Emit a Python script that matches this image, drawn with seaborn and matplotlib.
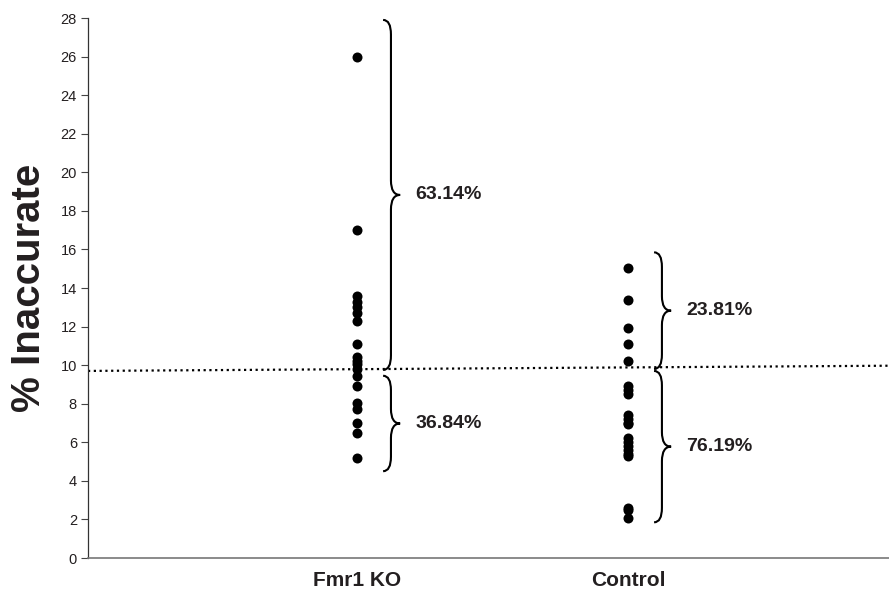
import numpy as np
import pandas as pd
import matplotlib
matplotlib.use("Agg")
import matplotlib.pyplot as plt
from matplotlib.path import Path
from matplotlib.patches import PathPatch
import seaborn as sns

# ---- data ----
groups = ["Fmr1 KO", "Control"]
fmr1_values = [26.0, 17.0, 13.6, 13.3, 13.0, 12.7, 12.3, 11.1, 10.4, 10.2, 10.05, 9.8,
               9.45, 8.9, 8.05, 7.75, 7.0, 6.5, 5.2]
control_values = [15.05, 13.4, 11.95, 11.1, 10.2,
                  8.9, 8.7, 8.5, 7.4, 7.2, 7.0, 6.95, 6.2, 6.0, 5.8, 5.6, 5.4, 5.3,
                  2.6, 2.5, 2.05]
cutoff_start = 9.7
cutoff_end = 9.97
brace_groups = ["Fmr1 KO", "Fmr1 KO", "Control", "Control"]
brace_low = [9.75, 4.5, 9.8, 1.85]
brace_high = [27.9, 9.45, 15.85, 9.7]
brace_labels = ["63.14%", "36.84%", "23.81%", "76.19%"]
yticks = list(range(0, 29, 2))

df = pd.DataFrame({
    "group": ["Fmr1 KO"] * len(fmr1_values) + ["Control"] * len(control_values),
    "value": fmr1_values + control_values,
})

sns.set_style("white")
plt.rcParams["font.family"] = ["Liberation Sans", "DejaVu Sans"]
txt = "#231f20"

fig = plt.figure(figsize=(8.89, 5.94), dpi=100)
ax = fig.add_axes([88 / 889, 36 / 594, 801 / 889, 540 / 594])

sns.stripplot(data=df, x="group", y="value", order=groups, jitter=False,
              color="black", size=7.2, linewidth=0, ax=ax, zorder=3)

ax.set_xlim(-0.993, 1.963)
ax.set_ylim(0, 28)
ax.set_yticks(yticks)
ax.set_yticklabels([str(t) for t in yticks], fontsize=10.5, color=txt)
ax.set_xticks([0, 1])
ax.set_xticklabels(groups, fontsize=15, fontweight="bold", color=txt)
ax.tick_params(axis="y", direction="out", length=5, width=0.8, color="#444444", pad=3, left=True)
ax.tick_params(axis="x", length=0, pad=9)
ax.set_xlabel("")
ax.set_ylabel("% Inaccurate", fontsize=29, fontweight="bold", color=txt, labelpad=9)

for s in ["top", "right"]:
    ax.spines[s].set_visible(False)
ax.spines["left"].set_color("#333333")
ax.spines["left"].set_linewidth(0.9)
ax.spines["bottom"].set_color("#777777")
ax.spines["bottom"].set_linewidth(1.2)

# cutoff dotted line
xl = ax.get_xlim()
ax.plot([xl[0], xl[1]], [cutoff_start, cutoff_end], color="black",
        linestyle=(0, (1, 1.6)), linewidth=1.6, zorder=2)

# braces
def draw_brace(ax, xc, lo, hi, label):
    x0 = xc + 0.096
    xm = xc + 0.125
    x1 = xc + 0.159
    mid = (lo + hi) / 2
    r = 0.75
    verts = [(x0, hi), (xm, hi), (xm, hi - r),
             (xm, mid + r),
             (xm, mid), (x1, mid),
             (xm, mid), (xm, mid - r),
             (xm, lo + r),
             (xm, lo), (x0, lo)]
    codes = [Path.MOVETO, Path.CURVE3, Path.CURVE3,
             Path.LINETO,
             Path.CURVE3, Path.CURVE3,
             Path.CURVE3, Path.CURVE3,
             Path.LINETO,
             Path.CURVE3, Path.CURVE3]
    ax.add_patch(PathPatch(Path(verts, codes), fill=False, lw=1.5, color="black", zorder=3))
    ax.text(x1 + 0.055, mid, label, fontsize=14, fontweight="bold", color=txt,
            va="center", ha="left")

for g, lo, hi, lab in zip(brace_groups, brace_low, brace_high, brace_labels):
    draw_brace(ax, groups.index(g), lo, hi, lab)

fig.savefig("out.png", dpi=100)
